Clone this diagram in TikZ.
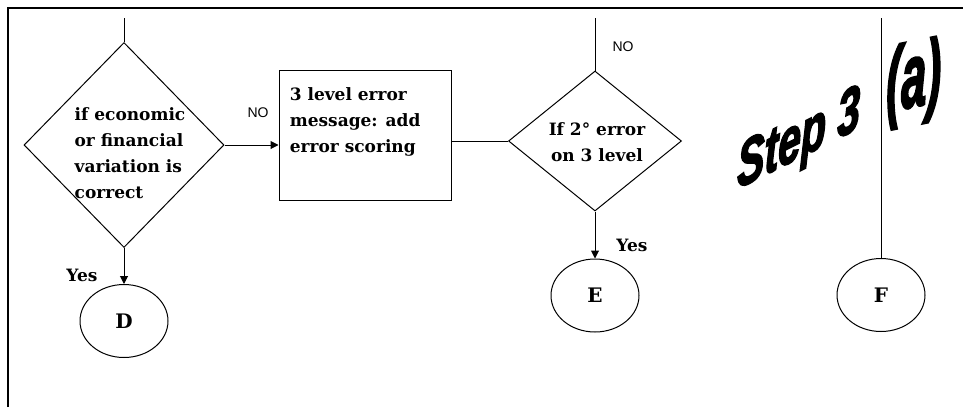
\documentclass[tikz,border=0pt]{standalone}
\usepackage{fontspec}
\setmainfont{DejaVu Serif}
\setsansfont{Liberation Sans}
\newfontfamily\wordart[FakeBold=3]{Liberation Sans}
\usetikzlibrary{arrows.meta,positioning,shapes.geometric}

\begin{document}
\begin{tikzpicture}[x=1pt,y=-1pt,
                    every node/.style={font=\fontsize{17}{26}\selectfont\bfseries},
                    every path/.style={line width=1pt},
                    >={Triangle[length=8pt,width=8pt]},
                    decision/.style={diamond,draw,inner sep=0pt},
                    process/.style={rectangle,draw,minimum width=172pt,minimum height=130pt},
                    term/.style={ellipse,draw,minimum width=88pt,minimum height=73pt,font=\fontsize{20}{24}\selectfont\bfseries},
                    flag/.style={font=\fontsize{14}{14}\selectfont\sffamily},
                    steptitle/.style={font=\fontsize{64}{64}\selectfont\wordart\bfseries\itshape,inner sep=0pt}]
\useasboundingbox (0,0) rectangle (963,407);
\draw[line width=2pt] (8,407) -- (8,8) -- (963,8);

\node[decision,minimum width=200pt,minimum height=205pt] (ifvar) at (124,145) {};
\node[align=left] (ifvartext) at (130,153) {if economic\\or financial\\variation is\\correct};

\node[process] (addscore) at (365,135) {};
\node[align=left,anchor=west] (addscoretext) at (286,122) {3 level error\\message: add\\error scoring};

\node[decision,minimum width=173pt,minimum height=140pt] (iftwo) at (595,141) {};
\node[align=center] (iftwotext) at (597,142) {If 2° error\\on 3 level};

\node[term,below=36pt of ifvar] (D) {D};
\node[term,below=47pt of iftwo] (E) {E};
\node[term] (F) at (881,295) {F};

\coordinate (in1) at (124,18);
\coordinate (in2) at (595,18);
\coordinate (in3) at (881,18);

\draw (in1) -- (ifvar.north);
\draw[->] (ifvar.east) -- (ifvar.east -| addscore.west);
\draw (addscore.east |- iftwo.west) -- (iftwo.west);
\draw (in2) -- (iftwo.north);
\draw[->] (ifvar.south) -- (D);
\draw[->] (iftwo.south) -- (E);
\draw (in3) -- (F);

\node[flag] (no1) at (258,113) {NO};
\node[flag] (no2) at (623,47) {NO};
\node (yes1) at (82,275) {Yes};
\node (yes2) at (632,245) {Yes};

% WordArt title
\node[steptitle,anchor=base west,yslant=0.5,xscale=0.64] (step) at (737,189) {Step 3};
\node[steptitle,anchor=base west,yslant=0.2,xscale=0.5,font=\fontsize{90}{90}\selectfont\wordart\bfseries\itshape] (stepcase) at (886,112) {(a)};

\end{tikzpicture}
\end{document}
